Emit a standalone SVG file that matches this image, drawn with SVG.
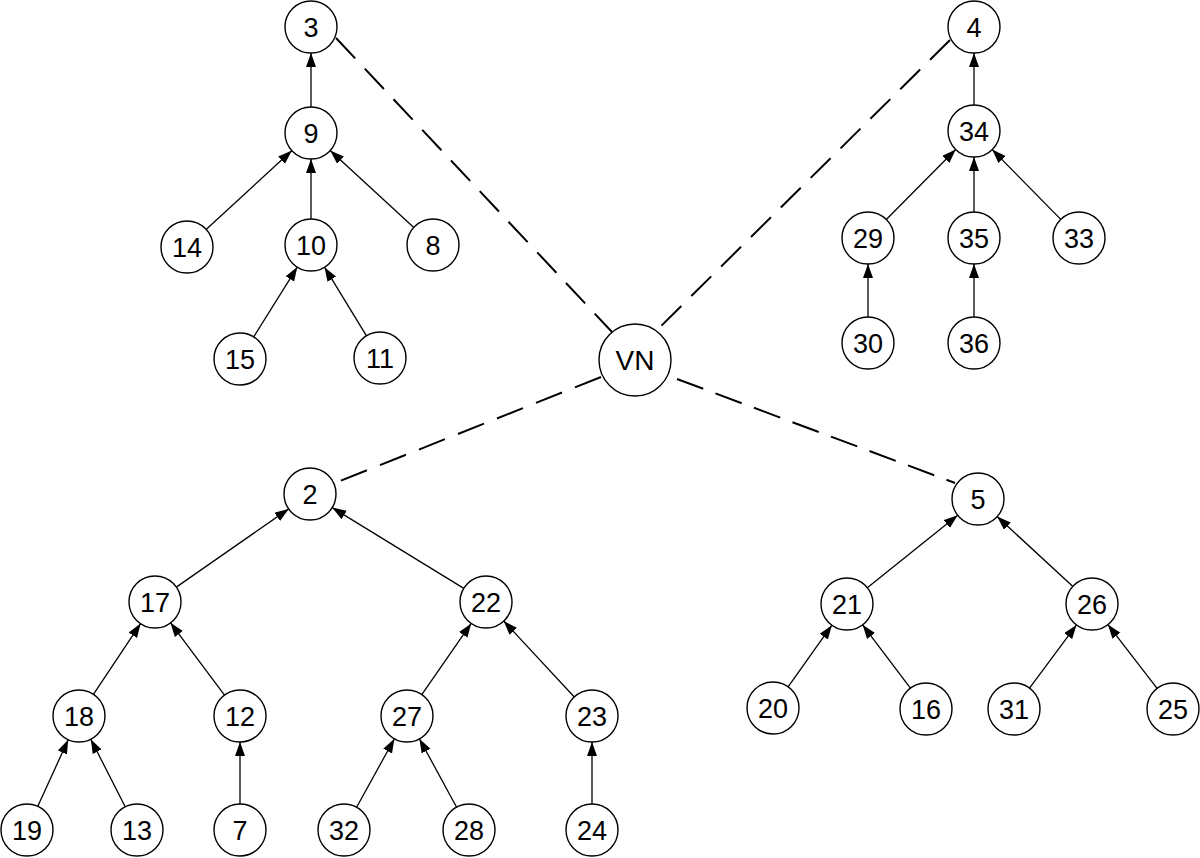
<svg xmlns="http://www.w3.org/2000/svg" width="1200" height="858" viewBox="0 0 1200 858">
<style>
.n circle{fill:#fff;stroke:#000;stroke-width:1.4}
.n text{font-family:"Liberation Sans",Arial,sans-serif;font-size:27px;text-anchor:middle;fill:#000}
.e line{stroke:#000;stroke-width:1.3;marker-end:url(#arr)}
.d line{stroke:#000;stroke-width:2;stroke-dasharray:28 14;fill:none}
</style>
<defs>
<marker id="arr" markerUnits="userSpaceOnUse" markerWidth="15" markerHeight="11" refX="14" refY="5" orient="auto">
<path d="M0,0 L14,5 L0,10 z" fill="#000"/>
</marker>
</defs>
<rect width="1200" height="858" fill="#fff"/>
<g id="connectors">
<g class="d">
<line x1="336" y1="38" x2="612" y2="332"/>
<line x1="950" y1="40" x2="655" y2="332"/>
<line x1="601" y1="377" x2="335" y2="483"/>
<line x1="677" y1="379" x2="955" y2="483" style="stroke-dasharray:28 13.1"/>
</g>
<g class="e">
<line x1="311" y1="107" x2="311" y2="53"/>
<line x1="206.1" y1="229.4" x2="291.9" y2="150.6"/>
<line x1="311" y1="219" x2="311" y2="159"/>
<line x1="413.8" y1="227.4" x2="330.2" y2="150.6"/>
<line x1="253.7" y1="336.9" x2="297.3" y2="267.1"/>
<line x1="366.5" y1="335.8" x2="324.5" y2="267.2"/>
<line x1="974" y1="105" x2="974" y2="53"/>
<line x1="886.3" y1="219.5" x2="955.7" y2="149.5"/>
<line x1="974" y1="212" x2="974" y2="157"/>
<line x1="1060.8" y1="219.4" x2="992.2" y2="149.6"/>
<line x1="868" y1="317" x2="868" y2="264"/>
<line x1="974" y1="317" x2="974" y2="264"/>
<line x1="176.3" y1="587.1" x2="288.7" y2="508.9"/>
<line x1="463.8" y1="588.4" x2="332.2" y2="507.6"/>
<line x1="93.4" y1="694.4" x2="140.6" y2="623.6"/>
<line x1="224.5" y1="695.2" x2="170.5" y2="622.8"/>
<line x1="37.8" y1="806.3" x2="68.2" y2="739.7"/>
<line x1="125.2" y1="806.8" x2="90.8" y2="739.2"/>
<line x1="240" y1="804" x2="240" y2="742"/>
<line x1="421.8" y1="694.6" x2="471.2" y2="623.4"/>
<line x1="574.3" y1="697" x2="503.7" y2="621"/>
<line x1="356.6" y1="807.2" x2="394.4" y2="738.8"/>
<line x1="456.6" y1="807.2" x2="419.4" y2="738.8"/>
<line x1="592" y1="804" x2="592" y2="742"/>
<line x1="867.3" y1="587.7" x2="957.7" y2="515.3"/>
<line x1="1072.9" y1="586.4" x2="997.1" y2="516.6"/>
<line x1="788.1" y1="686.8" x2="831.9" y2="625.2"/>
<line x1="910.4" y1="688.2" x2="862.6" y2="624.8"/>
<line x1="1029.5" y1="688.1" x2="1076.5" y2="624.9"/>
<line x1="1157.1" y1="688.4" x2="1107.9" y2="624.6"/>
</g>
</g>
<g id="n3" class="n"><circle cx="311" cy="27" r="26"/><text x="311" y="36.5">3</text></g>
<g id="n9" class="n"><circle cx="311" cy="133" r="26"/><text x="311" y="142.5">9</text></g>
<g id="n14" class="n"><circle cx="187" cy="247" r="26"/><text x="187" y="256.5">14</text></g>
<g id="n10" class="n"><circle cx="311" cy="245" r="26"/><text x="311" y="254.5">10</text></g>
<g id="n8" class="n"><circle cx="433" cy="245" r="26"/><text x="433" y="254.5">8</text></g>
<g id="n15" class="n"><circle cx="240" cy="359" r="26"/><text x="240" y="368.5">15</text></g>
<g id="n11" class="n"><circle cx="380" cy="358" r="26"/><text x="380" y="367.5">11</text></g>
<g id="n4" class="n"><circle cx="974" cy="27" r="26"/><text x="974" y="36.5">4</text></g>
<g id="n34" class="n"><circle cx="974" cy="131" r="26"/><text x="974" y="140.5">34</text></g>
<g id="n29" class="n"><circle cx="868" cy="238" r="26"/><text x="868" y="247.5">29</text></g>
<g id="n35" class="n"><circle cx="974" cy="238" r="26"/><text x="974" y="247.5">35</text></g>
<g id="n33" class="n"><circle cx="1079" cy="238" r="26"/><text x="1079" y="247.5">33</text></g>
<g id="n30" class="n"><circle cx="868" cy="343" r="26"/><text x="868" y="352.5">30</text></g>
<g id="n36" class="n"><circle cx="974" cy="343" r="26"/><text x="974" y="352.5">36</text></g>
<g id="nVN" class="n"><circle cx="635" cy="360" r="36"/><text x="635" y="370" style="font-size:28px">VN</text></g>
<g id="n2" class="n"><circle cx="310" cy="494" r="26"/><text x="310" y="503.5">2</text></g>
<g id="n5" class="n"><circle cx="978" cy="499" r="26"/><text x="978" y="508.5">5</text></g>
<g id="n17" class="n"><circle cx="155" cy="602" r="26"/><text x="155" y="611.5">17</text></g>
<g id="n22" class="n"><circle cx="486" cy="602" r="26"/><text x="486" y="611.5">22</text></g>
<g id="n18" class="n"><circle cx="79" cy="716" r="26"/><text x="79" y="725.5">18</text></g>
<g id="n12" class="n"><circle cx="240" cy="716" r="26"/><text x="240" y="725.5">12</text></g>
<g id="n27" class="n"><circle cx="407" cy="716" r="26"/><text x="407" y="725.5">27</text></g>
<g id="n23" class="n"><circle cx="592" cy="716" r="26"/><text x="592" y="725.5">23</text></g>
<g id="n19" class="n"><circle cx="27" cy="830" r="26"/><text x="27" y="839.5">19</text></g>
<g id="n13" class="n"><circle cx="137" cy="830" r="26"/><text x="137" y="839.5">13</text></g>
<g id="n7" class="n"><circle cx="240" cy="830" r="26"/><text x="240" y="839.5">7</text></g>
<g id="n32" class="n"><circle cx="344" cy="830" r="26"/><text x="344" y="839.5">32</text></g>
<g id="n28" class="n"><circle cx="469" cy="830" r="26"/><text x="469" y="839.5">28</text></g>
<g id="n24" class="n"><circle cx="592" cy="830" r="26"/><text x="592" y="839.5">24</text></g>
<g id="n21" class="n"><circle cx="847" cy="604" r="26"/><text x="847" y="613.5">21</text></g>
<g id="n26" class="n"><circle cx="1092" cy="604" r="26"/><text x="1092" y="613.5">26</text></g>
<g id="n20" class="n"><circle cx="773" cy="708" r="26"/><text x="773" y="717.5">20</text></g>
<g id="n16" class="n"><circle cx="926" cy="709" r="26"/><text x="926" y="718.5">16</text></g>
<g id="n31" class="n"><circle cx="1014" cy="709" r="26"/><text x="1014" y="718.5">31</text></g>
<g id="n25" class="n"><circle cx="1173" cy="709" r="26"/><text x="1173" y="718.5">25</text></g>
</svg>
